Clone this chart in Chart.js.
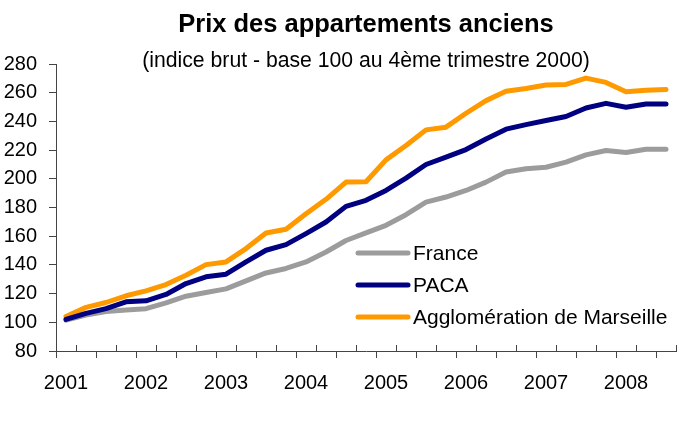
<!DOCTYPE html>
<html lang="fr">
<head>
<meta charset="utf-8">
<title>Prix des appartements anciens</title>
<script src="https://cdn.jsdelivr.net/npm/chart.js@4/dist/chart.umd.min.js"></script>
<style>
  html, body { margin: 0; padding: 0; background: #fff; }
  #wrap { width: 683px; height: 422px; }
</style>
</head>
<body>
<div id="wrap"><canvas id="prixChart" width="683" height="422"></canvas></div>
<script>
// ---------- DATA ----------
const years = ['2001', '2002', '2003', '2004', '2005', '2006', '2007', '2008'];
const quarters = ['T1', 'T2', 'T3', 'T4'];

const france = [101.5, 105, 107.5, 108.5, 109.5, 113.6, 118.2, 120.8, 123.3, 128.9, 134.4, 137.5,
    142.1, 149, 157, 162.3, 167.6, 175, 183.8, 187.3, 191.9, 197.7, 204.7, 207, 208.1, 211.6,
    216.7, 219.7, 218.3, 220.6, 220.6];
const paca = [102, 106.2, 109.5, 114.3, 115, 119.4, 127, 131.7, 133.5, 142.1, 150.2, 154.1,
    161.8, 169.9, 180.8, 185, 191.9, 200.5, 210, 215.1, 220.4, 227.8, 234.6, 237.8, 240.6, 243.4,
    249.4, 252.6, 249.9, 252.2, 252.2];
const marseille = [104, 110.4, 113.8, 118.5, 121.9, 126.3, 132.8, 140.2, 142.1, 151.4, 162.3, 164.8,
    175.7, 185.7, 197.7, 198, 213.2, 223.2, 234.1, 236, 245.7, 254.5, 261, 263, 265.4, 265.8,
    270.2, 267.2, 260.7, 261.7, 262.3];

// quarter labels (2001 T1 ... 2008 T3)
const labels = [];
years.forEach(y => quarters.forEach(q => labels.push(y + ' ' + q)));
labels.length = france.length;

const FONT = "'Liberation Sans', Arial, sans-serif";

// ---------- PLUGINS ----------
// Excel-like category ticks: outside on even boundaries, inside on odd ones
const xTicksPlugin = {
    id: 'xTicks',
    afterDraw(chart) {
        const xs = chart.scales.x;
        const ctx = chart.ctx;
        const half = (xs.getPixelForValue(1) - xs.getPixelForValue(0)) / 2;
        ctx.save();
        ctx.strokeStyle = '#444';
        ctx.lineWidth = 1;
        ctx.beginPath();
        for (let i = 0; i <= labels.length; i++) {
            const px = Math.round(xs.getPixelForValue(i) - half) + 0.5;
            const up = i % 2 === 1;
            ctx.moveTo(px, xs.top);
            ctx.lineTo(px, up ? xs.top - 6 : xs.top + 7);
        }
        ctx.stroke();
        ctx.restore();
    }
};

// legend drawn inside the plot area
const innerLegend = {
    id: 'innerLegend',
    afterDatasetsDraw(chart, args, opts) {
        const ctx = chart.ctx;
        ctx.save();
        ctx.font = '21px ' + FONT;
        ctx.textBaseline = 'middle';
        ctx.fillStyle = '#000';
        chart.data.datasets.forEach((ds, i) => {
            const y = opts.y + i * opts.rowGap;
            ctx.strokeStyle = ds.borderColor;
            ctx.lineWidth = 5;
            ctx.lineCap = 'round';
            ctx.beginPath();
            ctx.moveTo(opts.x, y);
            ctx.lineTo(opts.x + opts.lineLen, y);
            ctx.stroke();
            ctx.fillText(ds.label, opts.x + opts.lineLen + 5, y + 1);
        });
        ctx.restore();
    }
};

// ---------- CHART ----------
const lineStyle = {
    borderWidth: 5,
    pointRadius: 0,
    tension: 0,
    borderCapStyle: 'round',
    borderJoinStyle: 'round',
    fill: false
};

new Chart(document.getElementById('prixChart'), {
    type: 'line',
    data: {
        labels: labels,
        datasets: [
            { label: 'France', data: france, borderColor: '#9C9C9C', order: 1, ...lineStyle },
            { label: 'PACA', data: paca, borderColor: '#000080', order: 0, ...lineStyle },
            { label: 'Agglomération de Marseille', data: marseille, borderColor: '#FF9900', order: 2, ...lineStyle }
        ]
    },
    options: {
        responsive: false,
        animation: false,
        layout: { padding: { left: 0, right: 7, top: 0, bottom: 0 } },
        plugins: {
            legend: { display: false },
            tooltip: { enabled: false },
            title: {
                display: true,
                fullSize: false,
                text: 'Prix des appartements anciens',
                color: '#000',
                font: { family: FONT, size: 25.5, weight: 'bold' },
                padding: { top: 10, bottom: 0 }
            },
            subtitle: {
                display: true,
                fullSize: false,
                text: '(indice brut - base 100 au 4ème trimestre 2000)',
                color: '#000',
                font: { family: FONT, size: 21.2 },
                padding: { top: 8, bottom: -10 }
            },
            innerLegend: { x: 358, y: 253, rowGap: 32, lineLen: 50 }
        },
        scales: {
            x: {
                offset: true,
                grid: { display: false, offset: true },
                border: { display: true, color: '#444', width: 1 },
                ticks: {
                    autoSkip: false,
                    maxRotation: 0,
                    padding: 12,
                    color: '#000',
                    font: { family: FONT, size: 20 },
                    callback: (v, i) => (i % 4 === 0 ? labels[i].slice(0, 4) : '')
                },
                afterFit: s => { s.height = 71; }
            },
            y: {
                min: 80,
                max: 280,
                grid: { display: true, drawOnChartArea: false, drawTicks: true, tickLength: 7, color: '#444' },
                border: { display: true, color: '#444', width: 1 },
                ticks: {
                    stepSize: 20,
                    padding: 12,
                    color: '#000',
                    font: { family: FONT, size: 20 }
                },
                afterFit: s => { s.width = 56; }
            }
        }
    },
    plugins: [xTicksPlugin, innerLegend]
});
</script>
</body>
</html>
